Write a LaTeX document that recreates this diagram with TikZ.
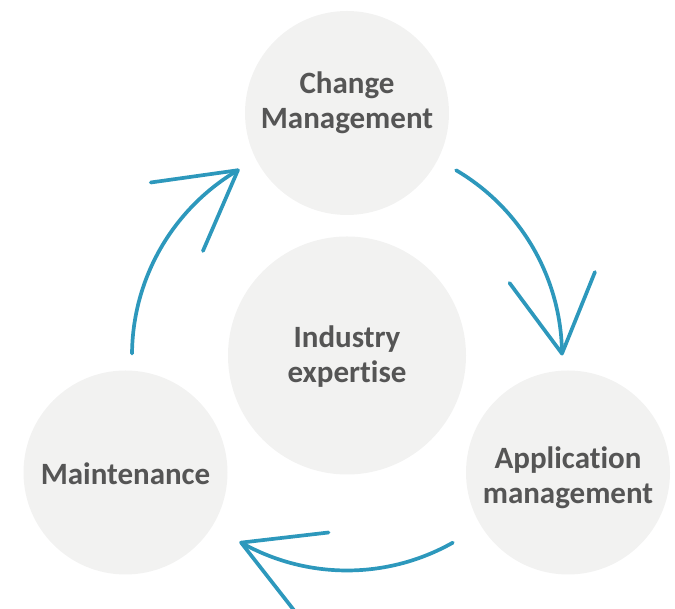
\documentclass[tikz,border=0pt]{standalone}
\usepackage{fontspec}
\setmainfont{Carlito}[Ligatures=NoCommon]
\usetikzlibrary{calc}
\definecolor{discfill}{RGB}{242,242,241}
\definecolor{labelgray}{RGB}{85,85,85}
\definecolor{cycleblue}{RGB}{45,152,188}
\begin{document}
\begin{tikzpicture}[x=1pt,y=1pt,
  disc/.style={circle,fill=discfill,draw=none,minimum size=#1,inner sep=0pt},
  lbl/.style={text=labelgray,font=\fontsize{31}{35}\selectfont\bfseries,align=center,inner sep=0pt},
  flow/.style={draw=cycleblue,line width=3.7pt,line cap=round,line join=round}]
\useasboundingbox (0,0) rectangle (675,609);

% the four discs
\node[disc=238] (ind) at (347,253.5) {};
\node[disc=204] (chg) at (347,496) {};
\node[disc=204] (mnt) at (125.5,136.5) {};
\node[disc=204] (app) at (568,136.5) {};

% their labels
\node[lbl] (indtxt) at ($(ind)+(0,-1)$) {Industry\\expertise};
\node[lbl] (chgtxt) at ($(chg)+(0,10)$) {Change\\Management};
\node[lbl] (mnttxt) at ($(mnt)+(0,-1.5)$) {Maintenance};
\node[lbl] (apptxt) at ($(app)+(0,-5)$) {Application\\management};

% three clockwise arcs around the centre disc, each with an open head
\foreach \k in {0,1,2} {
  \pgfmathsetmacro\sa{179.5-120*\k}
  \pgfmathsetmacro\ea{120.5-120*\k}
  \pgfmathsetmacro\ha{188-120*\k}
  \pgfmathsetmacro\hb{246.6-120*\k}
  \path (ind) ++(\sa:215) coordinate (s\k);
  \path (ind) ++(\ea:215) coordinate (t\k);
  \draw[flow] (s\k) arc[start angle=\sa, end angle=\ea, radius=215];
  \draw[flow] ($(t\k)+(\ha:88)$) -- (t\k) -- ($(t\k)+(\hb:88)$);
}
\end{tikzpicture}
\end{document}
